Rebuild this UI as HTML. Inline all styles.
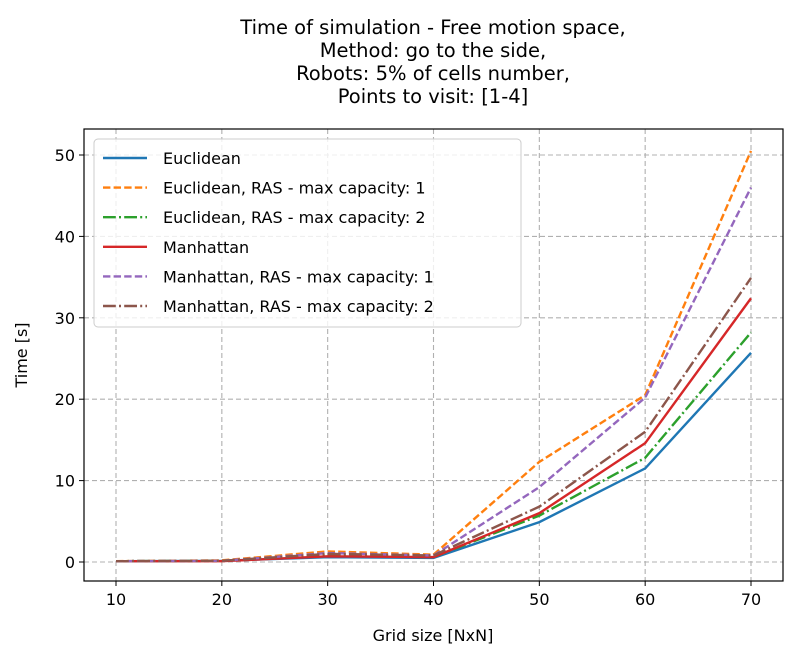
<!DOCTYPE html>
<html><head><meta charset="utf-8"><style>
body{margin:0;background:#fff}
svg text{font-family:"DejaVu Sans","Liberation Sans",sans-serif;fill:#000}
</style></head><body>
<svg id="chart" width="796" height="660" viewBox="0 0 796 660" xmlns="http://www.w3.org/2000/svg">
<g font-size="19.5" text-anchor="middle">
<text x="433" y="34">Time of simulation - Free motion space,</text>
<text x="433" y="57">Method: go to the side,</text>
<text x="433" y="80">Robots: 5% of cells number,</text>
<text x="433" y="103">Points to visit: [1-4]</text>
</g>
<g id="grid"></g>
<g id="series"></g>
<rect x="84" y="129" width="699" height="452" fill="none" stroke="#000" stroke-width="1.2"/>
<g id="ticks" font-size="16"></g>
<text x="433" y="641" font-size="16" text-anchor="middle">Grid size [NxN]</text>
<text transform="translate(27,355) rotate(-90)" font-size="16" text-anchor="middle">Time [s]</text>
<g id="legend"></g>
</svg>
<script>
const categories=[10,20,30,40,50,60,70];
const seriesNames=["Euclidean","Euclidean, RAS - max capacity: 1","Euclidean, RAS - max capacity: 2","Manhattan","Manhattan, RAS - max capacity: 1","Manhattan, RAS - max capacity: 2"];
const euclidean=[0.1,0.15,0.6,0.5,4.9,11.5,25.7];
const euclideanRas1=[0.1,0.2,1.3,0.9,12.3,20.5,50.5];
const euclideanRas2=[0.1,0.15,0.8,0.6,5.7,12.8,28.2];
const manhattan=[0.1,0.1,0.7,0.6,6.0,14.6,32.4];
const manhattanRas1=[0.1,0.15,1.1,0.8,9.2,20.2,46.0];
const manhattanRas2=[0.1,0.15,1.0,0.8,6.8,16.0,34.9];
const xTicks=[10,20,30,40,50,60,70];
const yTicks=[0,10,20,30,40,50];
const colors=["#1f77b4","#ff7f0e","#2ca02c","#d62728","#9467bd","#8c564b"];
const dashes=["","7.4,3.2","12.8,3.2,2,3.2","","7.4,3.2","12.8,3.2,2,3.2"];
const allSeries=[euclidean,euclideanRas1,euclideanRas2,manhattan,manhattanRas1,manhattanRas2];
const NS="http://www.w3.org/2000/svg";
const X=v=>116+(v-10)*(751-116)/60;
const Y=v=>562-v*(562-155)/50;
function mk(t,a,p){const e=document.createElementNS(NS,t);for(const k in a)e.setAttribute(k,a[k]);p.appendChild(e);return e;}
const grid=document.getElementById('grid'),ticks=document.getElementById('ticks');
xTicks.forEach(v=>{
 const l=mk('line',{x1:X(v),x2:X(v),y1:129,y2:581,stroke:'#b0b0b0','stroke-dasharray':'5,3','stroke-width':1.1},grid);
 
 
 mk('line',{x1:X(v),x2:X(v),y1:581,y2:586,stroke:'#000'},ticks);
 const t=mk('text',{x:X(v),y:605,'text-anchor':'middle'},ticks);t.textContent=v;
 
 
});
yTicks.forEach(v=>{
 const l=mk('line',{x1:84,x2:783,y1:Y(v),y2:Y(v),stroke:'#b0b0b0','stroke-dasharray':'5,3','stroke-width':1.1},grid);
 
 
 mk('line',{x1:79,x2:84,y1:Y(v),y2:Y(v),stroke:'#000'},ticks);
 const t=mk('text',{x:75,y:Y(v)+6,'text-anchor':'end'},ticks);t.textContent=v;
 
 
});
const sg=document.getElementById('series');
allSeries.forEach((s,i)=>{
 const p=mk('polyline',{points:s.map((v,j)=>X(categories[j])+','+Y(v)).join(' '),fill:'none',stroke:colors[i],'stroke-width':2.4,'stroke-dasharray':dashes[i]||'none'},sg);
 
 
});
const lg=document.getElementById('legend');
const box=mk('rect',{x:94,y:139,width:427,height:188,rx:4,fill:'#fff','fill-opacity':0.8,stroke:'#ccc'},lg);


seriesNames.forEach((n,i)=>{
 const y=158+i*29.6;
 const g=mk('g',{},lg);
 
 
 mk('line',{x1:103,x2:147,y1:y,y2:y,stroke:colors[i],'stroke-width':2.4,'stroke-dasharray':dashes[i]||'none'},g);
 const t=mk('text',{x:163,y:y+6,'font-size':16},g);t.textContent=n;
});
</script>
</body></html>
